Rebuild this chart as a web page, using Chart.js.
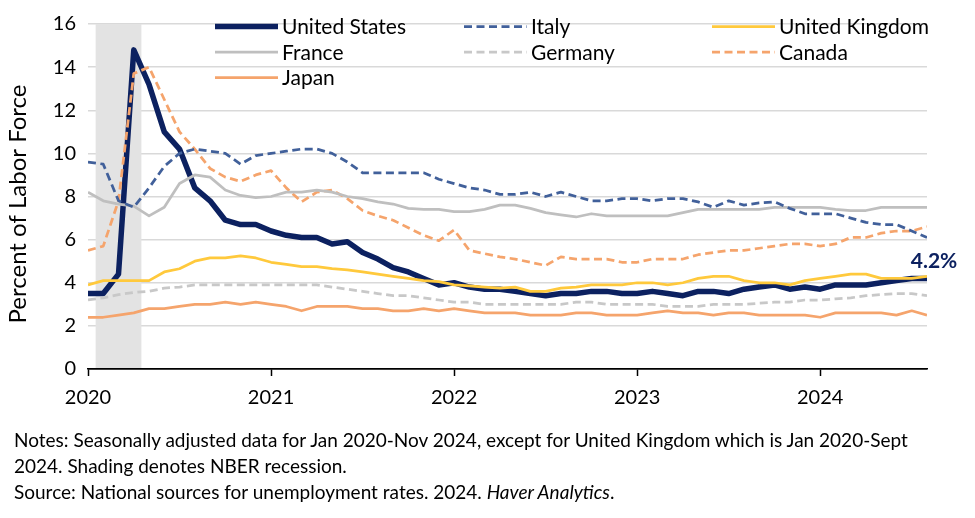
<!DOCTYPE html>
<html>
<head>
<meta charset="utf-8">
<script src="https://cdn.jsdelivr.net/npm/chart.js@4.4.1/dist/chart.umd.min.js"></script>
<style>
html,body{margin:0;padding:0;background:#fff;}
#wrap{position:relative;width:975px;height:518px;overflow:hidden;}
#c{position:absolute;left:0;top:0;}
.note{position:absolute;left:14px;font-family:Lato,"Liberation Sans",sans-serif;font-size:19px;color:#000;white-space:nowrap;line-height:1;}
</style>
</head>
<body>
<div id="wrap">
<canvas id="c" width="975" height="518"></canvas>
<div class="note" style="top:430px">Notes: Seasonally adjusted data for Jan 2020-Nov 2024, except for United Kingdom which is Jan 2020-Sept</div>
<div class="note" style="top:456px">2024. Shading denotes NBER recession.</div>
<div class="note" style="top:482px">Source: National sources for unemployment rates. 2024. <i>Haver Analytics</i>.</div>
</div>
<script>
// ---- data (monthly, Jan 2020 - Aug 2024) ----
const years = ['2020', '2021', '2022', '2023', '2024'];
const recession = [1, 3]; // month indices: Feb 2020 - Apr 2020
const seriesNames = ['United States', 'Italy', 'United Kingdom', 'France', 'Germany', 'Canada', 'Japan'];
const yTitle = 'Percent of Labor Force';

const unitedStates = [
  3.5, 3.5, 4.4, 14.8, 13.2, 11.0, 10.2, 8.4, 7.8, 6.9, 6.7, 6.7,
  6.4, 6.2, 6.1, 6.1, 5.8, 5.9, 5.4, 5.1, 4.7, 4.5, 4.2, 3.9,
  4.0, 3.8, 3.7, 3.7, 3.6, 3.5, 3.4, 3.5, 3.5, 3.6, 3.6, 3.5,
  3.5, 3.6, 3.5, 3.4, 3.6, 3.6, 3.5, 3.7, 3.8, 3.9, 3.7, 3.8,
  3.7, 3.9, 3.9, 3.9, 4.0, 4.1, 4.2, 4.2
];
const italy = [
  9.6, 9.5, 7.8, 7.5, 8.4, 9.4, 10.0, 10.2, 10.1, 10.0, 9.5, 9.9,
  10.0, 10.1, 10.2, 10.2, 10.0, 9.6, 9.1, 9.1, 9.1, 9.1, 9.1, 8.8,
  8.6, 8.4, 8.3, 8.1, 8.1, 8.2, 8.0, 8.2, 8.0, 7.8, 7.8, 7.9,
  7.9, 7.8, 7.9, 7.9, 7.75, 7.5, 7.8, 7.6, 7.7, 7.75, 7.45, 7.2,
  7.2, 7.2, 7.0, 6.8, 6.7, 6.7, 6.4, 6.1
];
const unitedKingdom = [
  3.9, 4.1, 4.1, 4.1, 4.1, 4.5, 4.65, 5.0, 5.15, 5.15, 5.25, 5.15,
  4.95, 4.85, 4.75, 4.75, 4.65, 4.6, 4.5, 4.4, 4.3, 4.2, 4.1, 4.05,
  3.9, 3.85, 3.8, 3.75, 3.8, 3.6, 3.6, 3.75, 3.8, 3.9, 3.9, 3.9,
  4.0, 4.0, 3.9, 4.0, 4.2, 4.3, 4.3, 4.1, 4.0, 4.0, 3.9, 4.1,
  4.2, 4.3, 4.4, 4.4, 4.2, 4.2, 4.2, 4.3
];
const france = [
  8.2, 7.8, 7.65, 7.55, 7.1, 7.5, 8.6, 9.0, 8.9, 8.3, 8.05, 7.95,
  8.0, 8.2, 8.2, 8.3, 8.2, 8.0, 7.9, 7.75, 7.65, 7.45, 7.4, 7.4,
  7.3, 7.3, 7.4, 7.6, 7.6, 7.45, 7.25, 7.15, 7.05, 7.2, 7.1, 7.1,
  7.1, 7.1, 7.1, 7.25, 7.4, 7.4, 7.4, 7.4, 7.4, 7.5, 7.5, 7.5,
  7.5, 7.4, 7.35, 7.35, 7.5, 7.5, 7.5, 7.5
];
const germany = [
  3.2, 3.3, 3.45, 3.55, 3.6, 3.75, 3.8, 3.9, 3.9, 3.9, 3.9, 3.9,
  3.9, 3.9, 3.9, 3.9, 3.8, 3.7, 3.6, 3.5, 3.4, 3.4, 3.3, 3.2,
  3.1, 3.1, 3.0, 3.0, 3.0, 3.0, 3.0, 3.0, 3.1, 3.1, 3.0, 3.0,
  3.0, 3.0, 2.9, 2.9, 2.9, 3.0, 3.0, 3.0, 3.05, 3.1, 3.1, 3.2,
  3.2, 3.25, 3.3, 3.4, 3.45, 3.5, 3.5, 3.4
];
const canada = [
  5.5, 5.7, 7.8, 13.7, 14.0, 12.5, 11.0, 10.2, 9.3, 8.9, 8.7, 9.0,
  9.2, 8.4, 7.75, 8.2, 8.3, 7.9, 7.35, 7.1, 6.9, 6.55, 6.2, 5.95,
  6.45, 5.5, 5.35, 5.2, 5.1, 4.95, 4.8, 5.2, 5.1, 5.1, 5.1, 4.95,
  4.95, 5.1, 5.1, 5.1, 5.3, 5.4, 5.5, 5.5, 5.6, 5.7, 5.8, 5.8,
  5.7, 5.8, 6.1, 6.1, 6.3, 6.4, 6.4, 6.6
];
const japan = [
  2.4, 2.4, 2.5, 2.6, 2.8, 2.8, 2.9, 3.0, 3.0, 3.1, 3.0, 3.1,
  3.0, 2.9, 2.7, 2.9, 2.9, 2.9, 2.8, 2.8, 2.7, 2.7, 2.8, 2.7,
  2.8, 2.7, 2.6, 2.6, 2.6, 2.5, 2.5, 2.5, 2.6, 2.6, 2.5, 2.5,
  2.5, 2.6, 2.7, 2.6, 2.6, 2.5, 2.6, 2.6, 2.5, 2.5, 2.5, 2.5,
  2.4, 2.6, 2.6, 2.6, 2.6, 2.5, 2.7, 2.5
];
const allSeries = [unitedStates, italy, unitedKingdom, france, germany, canada, japan];

// ---- styles ----
const FONT = 'Lato, "Liberation Sans", sans-serif';
const styles = [
  { color: '#0c2160', width: 5.5, dash: [] },
  { color: '#41609a', width: 2.75, dash: [8, 4.5] },
  { color: '#ffc93c', width: 2.75, dash: [] },
  { color: '#bfbfbf', width: 2.75, dash: [] },
  { color: '#c8c8c8', width: 2.75, dash: [8, 4.5] },
  { color: '#f5a46c', width: 2.75, dash: [8, 4.5] },
  { color: '#f5a46c', width: 2.75, dash: [] }
];
const drawOrder = [10, 1, 2, 3, 4, 5, 6];

const datasets = seriesNames.map((name, k) => ({
  label: name,
  data: allSeries[k].map((v, i) => ({ x: i, y: v })),
  borderColor: styles[k].color,
  backgroundColor: styles[k].color,
  borderWidth: styles[k].width,
  borderDash: styles[k].dash,
  borderJoinStyle: 'round',
  pointRadius: 0,
  pointHoverRadius: 0,
  tension: 0,
  fill: false,
  order: drawOrder[k]
}));

const legendCols = [215, 464, 712];
const legendRows = [26.5, 52, 77.5];

const overlay = {
  id: 'overlay',
  beforeDatasetsDraw(chart) {
    const { ctx, chartArea: a, scales: { x } } = chart;
    const x0 = x.getPixelForValue(recession[0] - 0.5);
    const x1 = x.getPixelForValue(recession[1] + 0.5);
    ctx.save();
    ctx.fillStyle = '#e3e3e3';
    ctx.fillRect(x0, a.top, x1 - x0, a.bottom - a.top - 1);
    ctx.restore();
  },
  afterDatasetsDraw(chart) {
    const { ctx, scales: { x, y } } = chart;
    ctx.save();
    // legend
    chart.data.datasets.forEach((ds, k) => {
      const cx = legendCols[k % 3], cy = legendRows[Math.floor(k / 3)];
      ctx.beginPath();
      ctx.strokeStyle = ds.borderColor;
      ctx.lineWidth = ds.borderWidth;
      ctx.setLineDash(ds.borderDash);
      ctx.lineCap = 'butt';
      ctx.moveTo(cx, cy);
      ctx.lineTo(cx + 63, cy);
      ctx.stroke();
      ctx.setLineDash([]);
      ctx.fillStyle = '#000';
      ctx.font = '21px ' + FONT;
      ctx.textAlign = 'left';
      ctx.textBaseline = 'middle';
      ctx.fillText(ds.label, cx + 67, cy + 1);
    });
    // end label
    const last = unitedStates.length - 1;
    const px = x.getPixelForValue(last), py = y.getPixelForValue(unitedStates[last]);
    ctx.font = 'bold 21px ' + FONT;
    ctx.fillStyle = styles[0].color;
    ctx.textAlign = 'center';
    ctx.textBaseline = 'middle';
    ctx.fillText(unitedStates[last].toFixed(1) + '%', px + 7, py - 17);
    // y-axis title
    ctx.translate(18, 204);
    ctx.rotate(-Math.PI / 2);
    ctx.font = '24px ' + FONT;
    ctx.fillStyle = '#000';
    ctx.textAlign = 'center';
    ctx.textBaseline = 'middle';
    ctx.fillText(yTitle, 0, 0);
    ctx.restore();
  }
};

new Chart(document.getElementById('c'), {
  type: 'line',
  data: { datasets },
  options: {
    responsive: false,
    animation: false,
    devicePixelRatio: 1,
    layout: { padding: { left: 0, top: 17, right: 48, bottom: 104 } },
    plugins: { legend: { display: false }, tooltip: { enabled: false } },
    scales: {
      x: {
        type: 'linear',
        min: 0,
        max: unitedStates.length - 1,
        afterBuildTicks: (s) => { s.ticks = years.map((yr, i) => ({ value: i * 12 })); },
        afterFit: (s) => { s.height = 45; },
        ticks: {
          callback: (v) => years[Math.round(v / 12)],
          font: { family: FONT, size: 20 },
          color: '#000',
          padding: 10,
          maxRotation: 0,
          autoSkip: false
        },
        grid: { drawOnChartArea: false, drawTicks: true, tickLength: 7, tickColor: '#000', tickWidth: 1.5 },
        border: { display: true, color: '#000', width: 1.5 }
      },
      y: {
        min: 0,
        max: 16,
        afterFit: (s) => { s.width = 88; },
        ticks: {
          stepSize: 2,
          font: { family: FONT, size: 20 },
          color: '#000',
          padding: 12
        },
        grid: {
          drawTicks: false,
          color: (c) => (c.tick && c.tick.value === 0 ? '#000' : '#d9d9d9'),
          lineWidth: 1.5
        },
        border: { display: false },
        title: { display: false }
      }
    }
  },
  plugins: [overlay]
});
</script>
</body>
</html>
